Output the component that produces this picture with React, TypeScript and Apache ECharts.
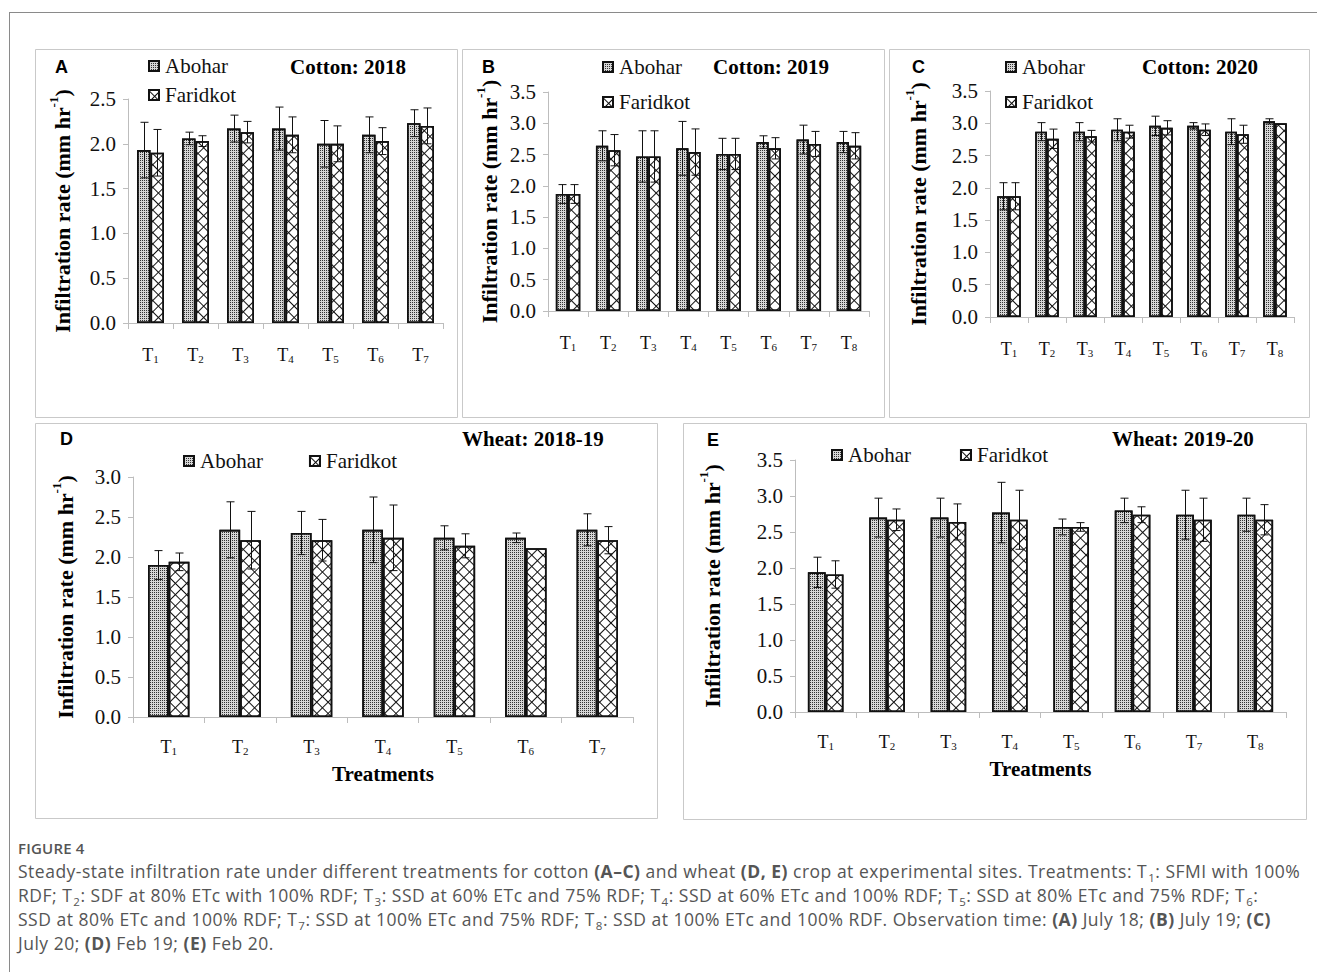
import React, { useEffect, useRef } from "react";
import * as echarts from "echarts";

// ---------- DATA ----------
const cats7 = ["T1", "T2", "T3", "T4", "T5", "T6", "T7"];
const cats8 = ["T1", "T2", "T3", "T4", "T5", "T6", "T7", "T8"];
const legendNames = ["Abohar", "Faridkot"];

// A: Cotton 2018
const aAbohar = [1.93, 2.06, 2.17, 2.17, 2.0, 2.1, 2.23];
const aAboharErr = [0.31, 0.07, 0.15, 0.24, 0.26, 0.2, 0.15];
const aFaridkot = [1.9, 2.03, 2.13, 2.1, 2.0, 2.03, 2.2];
const aFaridkotErr = [0.26, 0.06, 0.12, 0.2, 0.2, 0.15, 0.2];

// B: Cotton 2019
const bAbohar = [1.87, 2.64, 2.47, 2.6, 2.51, 2.7, 2.74, 2.7];
const bAboharErr = [0.15, 0.24, 0.41, 0.43, 0.25, 0.1, 0.23, 0.17];
const bFaridkot = [1.87, 2.57, 2.47, 2.54, 2.51, 2.6, 2.67, 2.64];
const bFaridkotErr = [0.15, 0.25, 0.41, 0.37, 0.25, 0.17, 0.2, 0.21];

// C: Cotton 2020
const cAbohar = [1.87, 2.87, 2.87, 2.9, 2.96, 2.96, 2.87, 3.03];
const cAboharErr = [0.21, 0.14, 0.14, 0.17, 0.15, 0.05, 0.2, 0.04];
const cFaridkot = [1.87, 2.76, 2.8, 2.87, 2.93, 2.9, 2.83, 3.0];
const cFaridkotErr = [0.21, 0.15, 0.09, 0.1, 0.11, 0.09, 0.14, 0];

// D: Wheat 2018-19
const dAbohar = [1.9, 2.34, 2.3, 2.34, 2.24, 2.24, 2.34];
const dAboharErr = [0.18, 0.35, 0.27, 0.41, 0.15, 0.06, 0.2];
const dFaridkot = [1.94, 2.21, 2.21, 2.24, 2.14, 2.11, 2.21];
const dFaridkotErr = [0.11, 0.36, 0.26, 0.41, 0.15, 0, 0.17];

// E: Wheat 2019-20
const eAbohar = [1.94, 2.7, 2.7, 2.77, 2.57, 2.8, 2.74, 2.74];
const eAboharErr = [0.21, 0.27, 0.27, 0.42, 0.11, 0.17, 0.34, 0.23];
const eFaridkot = [1.91, 2.67, 2.64, 2.67, 2.57, 2.74, 2.67, 2.67];
const eFaridkotErr = [0.19, 0.15, 0.25, 0.41, 0.06, 0.11, 0.3, 0.21];

const yMaxes = [2.5, 3.5, 3.5, 3.0, 3.5];
const titles = ["Cotton: 2018", "Cotton: 2019", "Cotton: 2020", "Wheat: 2018-19", "Wheat: 2019-20"];
const letters = ["A", "B", "C", "D", "E"];
const yName = "Infiltration rate (mm hr";
const xName = "Treatments";

// ---------- LAYOUT ----------
const SERIF = '"Liberation Serif", "Times New Roman", serif';
const SANS = '"Liberation Sans", Arial, sans-serif';

const panels = [
  {
    cats: cats7, ab: aAbohar, abE: aAboharErr, fa: aFaridkot, faE: aFaridkotErr,
    grid: { left: 128, top: 99, width: 315, height: 224 }, box: [35, 49, 422, 368],
    letter: [55, 67], title: [290, 67], legend: { left: 148, top: 55, orient: "vertical", itemGap: 7 },
    nameGap: 55, gap: 0.4, labelMargin: 19, showX: false,
  },
  {
    cats: cats8, ab: bAbohar, abE: bAboharErr, fa: bFaridkot, faE: bFaridkotErr,
    grid: { left: 548, top: 92, width: 321, height: 219 }, box: [462, 49, 422, 368],
    letter: [482, 67], title: [713, 67], legend: { left: 602, top: 56, orient: "vertical", itemGap: 13 },
    nameGap: 48, gap: 0.39, labelMargin: 19, showX: false,
  },
  {
    cats: cats8, ab: cAbohar, abE: cAboharErr, fa: cFaridkot, faE: cFaridkotErr,
    grid: { left: 990, top: 91, width: 304, height: 226 }, box: [889, 49, 420, 368],
    letter: [912, 67], title: [1142, 67], legend: { left: 1005, top: 56, orient: "vertical", itemGap: 13 },
    nameGap: 61, gap: 0.38, labelMargin: 19, showX: false,
  },
  {
    cats: cats7, ab: dAbohar, abE: dAboharErr, fa: dFaridkot, faE: dFaridkotErr,
    grid: { left: 133, top: 477, width: 500, height: 240 }, box: [35, 423, 622, 395],
    letter: [60, 439], title: [462, 439], legend: { left: 183, top: 450, orient: "horizontal", itemGap: 46 },
    nameGap: 57, gap: 0.42, labelMargin: 17, showX: true,
  },
  {
    cats: cats8, ab: eAbohar, abE: eAboharErr, fa: eFaridkot, faE: eFaridkotErr,
    grid: { left: 795, top: 460, width: 491, height: 252 }, box: [683, 423, 623, 396],
    letter: [707, 440], title: [1112, 439], legend: { left: 831, top: 444, orient: "horizontal", itemGap: 49 },
    nameGap: 72, gap: 0.42, labelMargin: 17, showX: true,
  },
];

const dotDecal = {
  symbol: "rect", symbolSize: 1, dashArrayX: [1, 1], dashArrayY: [1, 1], color: "#333", rotation: 0,
};
const hatchDecal = {
  symbol: "rect", symbolSize: 1, dashArrayX: [[8, 0], [1, 7]], dashArrayY: [1, 0, 7, 0],
  color: "#111", rotation: Math.PI / 4,
};

const makeErr = (sign: number, gapRatio: number) => (params: any, api: any) => {
  const j = api.value(0);
  const v = api.value(1);
  const e = api.value(2);
  if (!e) return null;
  const catW = api.size([1, 0])[0];
  const bw = (catW * (1 - gapRatio)) / 2;
  const x = Math.round(api.coord([j, v])[0] + (sign * bw) / 2) + 0.5;
  const yT = api.coord([j, v + e])[1];
  const yB = api.coord([j, v - e])[1];
  const cw = 4;
  const st = { stroke: "#111", lineWidth: 1 };
  return {
    type: "group",
    children: [
      { type: "line", shape: { x1: x, y1: yT, x2: x, y2: yB }, style: st },
      { type: "line", shape: { x1: x - cw, y1: yT, x2: x + cw, y2: yT }, style: st },
      { type: "line", shape: { x1: x - cw, y1: yB, x2: x + cw, y2: yB }, style: st },
    ],
  };
};

function buildOption() {
  const grid: any[] = [];
  const xAxis: any[] = [];
  const yAxis: any[] = [];
  const series: any[] = [];
  const legend: any[] = [];
  const graphic: any[] = [];

  panels.forEach((p, i) => {
    grid.push({ ...p.grid, containLabel: false });
    xAxis.push({
      type: "category",
      gridIndex: i,
      data: p.cats,
      axisLine: { show: true, lineStyle: { color: "#bdbdbd", width: 1 } },
      axisTick: { show: true, length: 6, lineStyle: { color: "#bdbdbd" } },
      splitLine: { show: false },
      axisLabel: {
        interval: 0,
        margin: p.labelMargin,
        formatter: (v: string) => `{t|T}{s|${v.slice(1)}}`,
        rich: {
          t: { fontFamily: SERIF, fontSize: 18, color: "#111", lineHeight: 22, verticalAlign: "bottom" },
          s: { fontFamily: SERIF, fontSize: 11, color: "#111", lineHeight: 14, verticalAlign: "bottom" },
        },
      },
      name: p.showX ? xName : "",
      nameLocation: "middle",
      nameGap: 46,
      nameTextStyle: { fontFamily: SERIF, fontSize: 21, fontWeight: "bold", color: "#000" },
    });
    yAxis.push({
      type: "value",
      gridIndex: i,
      min: 0,
      max: yMaxes[i],
      interval: 0.5,
      axisLine: { show: true, lineStyle: { color: "#bdbdbd", width: 1 } },
      axisTick: { show: true, length: 5, lineStyle: { color: "#bdbdbd" } },
      splitLine: { show: false },
      axisLabel: {
        margin: 12,
        fontFamily: SERIF,
        fontSize: 21,
        color: "#111",
        formatter: (v: number) => v.toFixed(1),
      },
      name: `{n|${yName}}{p|-1}{n|)}`,
      nameLocation: "middle",
      nameGap: p.nameGap,
      nameTextStyle: {
        rich: {
          n: { fontFamily: SERIF, fontSize: 22, fontWeight: "bold", color: "#000", lineHeight: 26, verticalAlign: "bottom" },
          p: { fontFamily: SERIF, fontSize: 13, fontWeight: "bold", color: "#000", lineHeight: 14, verticalAlign: "top" },
        },
      },
    });
    const gapPct = `${Math.round(p.gap * 100)}%`;
    series.push({
      type: "bar",
      name: legendNames[0],
      xAxisIndex: i,
      yAxisIndex: i,
      data: p.ab,
      barGap: "0%",
      barCategoryGap: gapPct,
      itemStyle: { color: "#d6d6d6", borderColor: "#111", borderWidth: 1.6, decal: dotDecal },
      emphasis: { disabled: true },
      z: 2,
    });
    series.push({
      type: "bar",
      name: legendNames[1],
      xAxisIndex: i,
      yAxisIndex: i,
      data: p.fa,
      barGap: "0%",
      barCategoryGap: gapPct,
      itemStyle: { color: "#ffffff", borderColor: "#111", borderWidth: 1.6, decal: hatchDecal },
      emphasis: { disabled: true },
      z: 2,
    });
    series.push({
      type: "custom",
      name: `err-${letters[i]}-1`,
      xAxisIndex: i,
      yAxisIndex: i,
      data: p.ab.map((v, j) => [j, v, p.abE[j]]),
      encode: { x: 0, y: 1 },
      renderItem: makeErr(-1, p.gap),
      silent: true,
      z: 5,
    });
    series.push({
      type: "custom",
      name: `err-${letters[i]}-2`,
      xAxisIndex: i,
      yAxisIndex: i,
      data: p.fa.map((v, j) => [j, v, p.faE[j]]),
      encode: { x: 0, y: 1 },
      renderItem: makeErr(1, p.gap),
      silent: true,
      z: 5,
    });
    legend.push({
      left: p.legend.left,
      top: p.legend.top,
      orient: p.legend.orient,
      itemGap: p.legend.itemGap,
      itemWidth: 10,
      itemHeight: 10,
      padding: 0,
      icon: "rect",
      selectedMode: false,
      data: legendNames,
      textStyle: { fontFamily: SERIF, fontSize: 21, color: "#111", lineHeight: 22, padding: [0, 0, 0, 1] },
    });
    const [bx, by, bw, bh] = p.box;
    graphic.push({
      type: "rect",
      silent: true,
      z: -10,
      shape: { x: bx + 0.5, y: by + 0.5, width: bw, height: bh },
      style: { fill: "none", stroke: "#c9c9c9", lineWidth: 1 },
    });
    graphic.push({
      type: "text",
      silent: true,
      x: p.letter[0],
      y: p.letter[1],
      style: {
        text: letters[i],
        fill: "#000",
        font: `bold 18px ${SANS}`,
        verticalAlign: "middle",
        textVerticalAlign: "middle",
      },
    });
    graphic.push({
      type: "text",
      silent: true,
      x: p.title[0],
      y: p.title[1],
      style: {
        text: titles[i],
        fill: "#000",
        font: `bold 21px ${SERIF}`,
        verticalAlign: "middle",
        textVerticalAlign: "middle",
      },
    });
  });

  return {
    animation: false,
    backgroundColor: "transparent",
    grid,
    xAxis,
    yAxis,
    series,
    legend,
    graphic,
  };
}

const capStyle: React.CSSProperties = {
  whiteSpace: "nowrap",
  height: 24,
  lineHeight: "24px",
};
const Sb = ({ t }: { t: string }) => (
  <span style={{ fontSize: 11.5, position: "relative", top: 4, marginLeft: 1 }}>{t}</span>
);
const Bd = ({ t }: { t: string }) => <span style={{ fontWeight: 700 }}>{t}</span>;

export default function App() {
  const ref = useRef<HTMLDivElement>(null);
  useEffect(() => {
    if (!ref.current) return;
    const chart = echarts.init(ref.current, undefined, { renderer: "svg" });
    chart.setOption(buildOption() as any);
    return () => chart.dispose();
  }, []);

  return (
    <div
      style={{
        position: "absolute",
        left: 0,
        top: 0,
        width: 1317,
        height: 972,
        overflow: "hidden",
        background: "#fff",
      }}
    >
      <div
        style={{
          position: "absolute",
          left: 9,
          top: 12,
          width: 1400,
          height: 1000,
          borderLeft: "1px solid #8a8a8a",
          borderTop: "1px solid #8a8a8a",
        }}
      />
      <div ref={ref} style={{ position: "absolute", left: 0, top: 0, width: 1317, height: 830 }} />
      <div
        style={{
          position: "absolute",
          left: 18,
          top: 837,
          fontFamily: '"Open Sans", "Noto Sans", sans-serif',
          color: "#555",
          fontSize: 17.5,
          letterSpacing: 0.5,
        }}
      >
        <div style={{ fontSize: 15, fontWeight: 600, height: 22, lineHeight: "22px", letterSpacing: 0.2 }}>FIGURE 4</div>
        <div style={capStyle}>
          Steady-state infiltration rate under different treatments for cotton <Bd t="(A–C)" /> and wheat <Bd t="(D, E)" /> crop
          at experimental sites. Treatments: T<Sb t="1" />: SFMI with 100%
        </div>
        <div style={capStyle}>
          RDF; T<Sb t="2" />: SDF at 80% ETc with 100% RDF; T<Sb t="3" />: SSD at 60% ETc and 75% RDF; T<Sb t="4" />: SSD at 60%
          ETc and 100% RDF; T<Sb t="5" />: SSD at 80% ETc and 75% RDF; T<Sb t="6" />:
        </div>
        <div style={capStyle}>
          SSD at 80% ETc and 100% RDF; T<Sb t="7" />: SSD at 100% ETc and 75% RDF; T<Sb t="8" />: SSD at 100% ETc and 100% RDF.
          Observation time: <Bd t="(A)" /> July 18; <Bd t="(B)" /> July 19; <Bd t="(C)" />
        </div>
        <div style={capStyle}>
          July 20; <Bd t="(D)" /> Feb 19; <Bd t="(E)" /> Feb 20.
        </div>
      </div>
    </div>
  );
}
